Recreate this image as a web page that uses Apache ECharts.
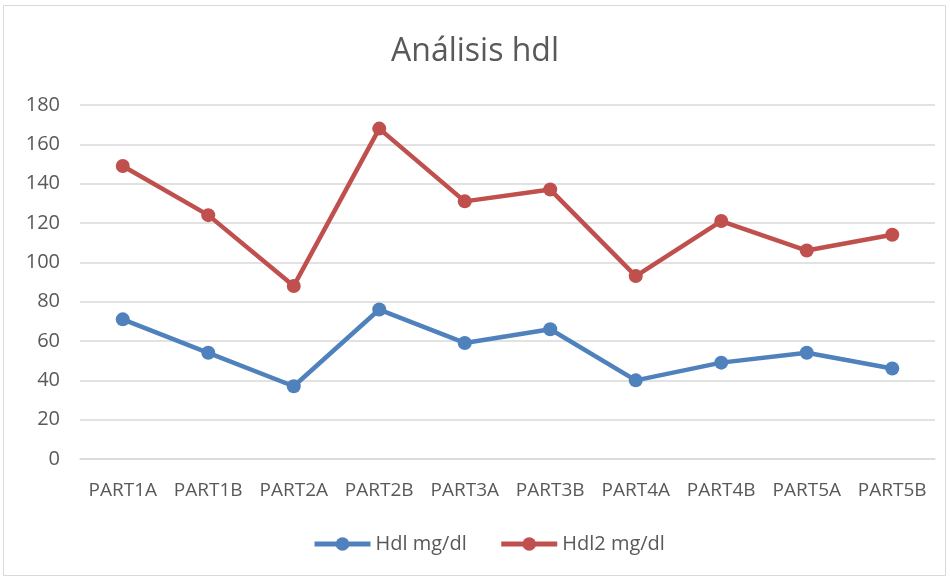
<!DOCTYPE html>
<html>
<head>
<meta charset="utf-8">
<script src="https://cdn.jsdelivr.net/npm/echarts@6/dist/echarts.min.js"></script>
<style>html,body{margin:0;padding:0;background:#fff;}#c{width:950px;height:578px;}</style>
</head>
<body>
<div id="c"></div>
<script>
const categories = ['PART1A','PART1B','PART2A','PART2B','PART3A','PART3B','PART4A','PART4B','PART5A','PART5B'];
const hdl = [71,54,37,76,59,66,40,49,54,46];
const hdl2 = [149,124,88,168,131,137,93,121,106,114];
const seriesNames = ['Hdl mg/dl','Hdl2 mg/dl'];
const colors = ['#4F81BD','#C0504D'];
const font = '"Open Sans", "Liberation Sans", sans-serif';

const chart = echarts.init(document.getElementById('c'));
chart.setOption({
  animation: false,
  color: colors,
  title: {text: 'Análisis hdl', left: 'center', top: 31,
    textStyle: {fontFamily: font, fontSize: 32, fontWeight: 'normal', color: '#595959'}},
  graphic: [{type: 'rect', shape: {x: 3.5, y: 5.5, width: 942, height: 570},
    style: {fill: 'none', stroke: '#d9d9d9', lineWidth: 1}, silent: true}],
  grid: {left: 80, right: 15, top: 105, bottom: 119},
  legend: {bottom: 19, left: 307, itemWidth: 56, itemHeight: 17, itemGap: 32,
    lineStyle: {width: 5},
    textStyle: {fontFamily: font, fontSize: 20, color: '#595959'},
    data: seriesNames},
  xAxis: {type: 'category', data: categories, boundaryGap: true,
    axisLine: {lineStyle: {color: '#d9d9d9', width: 1.5}}, axisTick: {show: false},
    axisLabel: {interval: 0, fontFamily: font, fontSize: 19, color: '#595959', margin: 22}},
  yAxis: {type: 'value', min: 0, max: 180, interval: 20,
    axisLine: {show: false}, axisTick: {show: false},
    splitLine: {lineStyle: {color: '#d9d9d9', width: 1.5}},
    axisLabel: {fontFamily: font, fontSize: 20, color: '#595959', margin: 20}},
  series: [
    {name: seriesNames[0], type: 'line', data: hdl, symbol: 'circle', symbolSize: 14,
      lineStyle: {width: 4.5, color: colors[0]}, itemStyle: {color: colors[0]}},
    {name: seriesNames[1], type: 'line', data: hdl2, symbol: 'circle', symbolSize: 14,
      lineStyle: {width: 4.5, color: colors[1]}, itemStyle: {color: colors[1]}}
  ]
});
</script>
</body>
</html>
